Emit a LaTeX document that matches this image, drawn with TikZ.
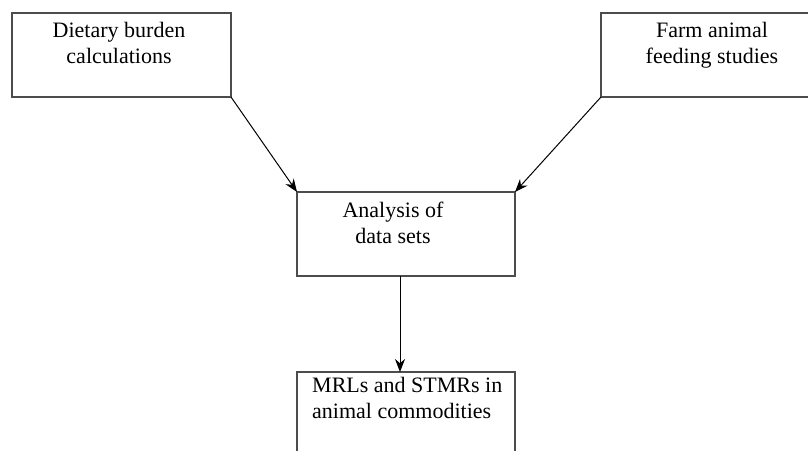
\documentclass[tikz,border=0pt]{standalone}
\usepackage{fontspec}
\setmainfont{Liberation Serif}
\usetikzlibrary{arrows.meta}
\begin{document}
\begin{tikzpicture}[x=1pt,y=-1pt,
 box/.style={draw=black!70, line width=1.2pt, inner sep=0pt, outer sep=0pt, minimum height=84pt},
 txt/.style={font=\fontsize{22}{25.5}\selectfont, inner sep=0pt, anchor=base, align=center},
 arr/.style={draw=black, line width=1pt, -{Stealth[length=13pt,width=10pt]}}]
\clip (0,0) rectangle (808,450);
\fill[white] (0,0) rectangle (808,450);
\node[box, minimum width=219pt] (b1) at (121.5,55) {};
\node[box, minimum width=222pt] (b2) at (712,55) {};
\node[box, minimum width=218pt] (b3) at (406,234) {};
\node[box, minimum width=218pt] (b4) at (406,414) {};
\node[txt] (t1) at (119,63) {Dietary burden\\calculations};
\node[txt] (t2) at (712,63) {Farm animal\\feeding studies};
\node[txt] (t3) at (393,243) {Analysis of\\data sets};
\node[txt, align=left, anchor=base west] (t4) at (312,418) {MRLs and STMRs in\\animal commodities};
\draw[arr] (b1.south east) -- (b3.north west);
\draw[arr] (b2.south west) -- (b3.north east);
\draw[arr] ([xshift=-6pt]b3.south) -- ([xshift=-6pt]b4.north);
\end{tikzpicture}
\end{document}
